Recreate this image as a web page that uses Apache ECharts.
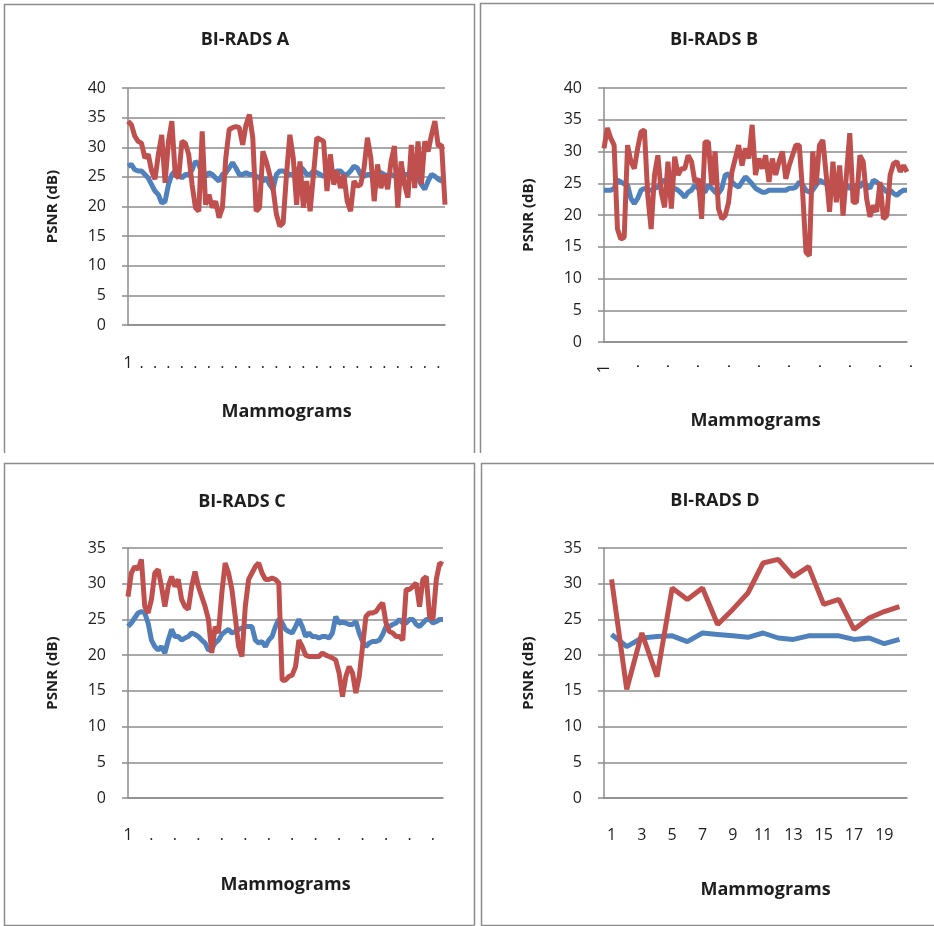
<!DOCTYPE html>
<html><head><meta charset="utf-8">
<script src="https://cdn.jsdelivr.net/npm/echarts@6/dist/echarts.min.js"></script>
<style>html,body{margin:0;padding:0;background:#fff}#c{width:934px;height:926px}</style>
</head><body><div id="c"></div>
<script>
// ---- Data (PSNR in dB) ----
const titles = ['BI-RADS A', 'BI-RADS B', 'BI-RADS C', 'BI-RADS D'];
const xAxisTitle = 'Mammograms';
const yAxisTitle = 'PSNR (dB)';
const seriesNames = ['Method 1', 'Method 2'];

const blueA = [26.8,27.1,26.2,26.0,26.0,25.4,24.8,23.7,22.6,22.0,
20.6,20.9,23.7,25.4,26.0,25.4,24.8,25.4,25.4,26.2,
27.6,27.1,25.4,25.1,25.7,25.4,24.8,24.3,25.4,25.7,
26.5,27.4,26.5,25.4,25.4,25.7,25.4,25.4,25.1,24.8,
24.3,24.8,23.7,22.9,25.4,26.0,26.0,25.7,25.4,25.4,
26.0,26.8,26.2,25.4,25.4,26.0,25.7,25.4,25.1,25.4,
25.4,25.7,26.0,26.0,25.4,25.4,26.0,26.8,26.5,25.4,
25.1,25.4,25.4,25.4,26.0,25.7,25.4,25.1,25.4,25.1,
25.4,24.8,25.4,25.4,24.8,25.4,24.8,23.7,22.9,24.3,
25.4,25.1,24.6,24.3,24.3];
const redA = [34.4,33.8,31.9,31.0,30.7,28.2,28.8,26.0,24.6,28.8,
32.1,24.0,31.0,34.4,25.4,24.8,31.0,30.7,28.8,23.7,
19.8,19.2,32.7,20.3,22.0,19.8,20.9,18.1,19.8,28.2,
33.0,33.3,33.5,33.3,30.4,33.8,35.5,31.6,19.2,19.8,
29.3,27.6,25.4,23.1,18.7,16.7,17.2,25.4,32.1,28.2,
20.3,27.6,19.8,24.3,19.2,25.4,31.6,31.3,31.0,22.6,
28.8,23.7,26.0,23.1,25.4,20.9,19.2,24.3,23.4,23.7,
26.5,31.6,28.2,20.9,27.1,23.1,25.4,22.9,27.6,30.2,
19.8,27.6,23.7,21.5,30.4,23.1,31.0,23.7,31.0,29.3,
32.1,34.4,30.2,30.4,20.3];

const blueB = [23.9,23.9,23.9,24.2,25.5,25.2,24.9,24.7,22.6,21.8,
22.6,23.9,24.2,23.9,23.9,24.2,24.4,25.2,25.5,24.7,
23.9,24.2,23.9,23.4,22.8,23.6,23.9,24.7,24.2,23.9,
23.6,24.7,24.2,23.6,23.4,24.2,26.3,26.5,25.2,24.7,
24.4,25.2,26.0,25.5,24.9,24.2,23.9,23.6,23.6,23.9,
23.9,23.9,23.9,23.9,23.9,24.2,24.2,24.4,25.2,24.7,
23.9,23.6,23.9,24.7,25.5,25.2,24.9,24.2,23.9,24.2,
24.2,24.4,24.7,24.2,24.4,24.7,24.4,25.2,24.7,24.2,
25.5,25.2,24.7,24.2,23.6,23.9,23.4,23.1,23.6,23.9,
23.9];
const redB = [30.5,33.7,32.1,31.0,17.8,16.2,16.5,31.0,28.4,27.3,
30.5,33.1,33.4,23.1,17.8,26.3,29.4,23.6,21.2,28.4,
21.0,29.2,26.3,27.3,27.3,29.4,28.4,25.2,25.7,19.4,
31.5,31.5,24.7,30.0,21.0,19.4,19.9,22.0,26.8,28.9,
31.0,27.8,30.5,28.9,34.2,26.3,28.9,27.3,29.4,25.2,
28.9,26.3,28.4,30.0,25.7,27.8,29.4,31.0,31.0,23.6,
14.1,13.6,30.0,24.7,31.0,31.8,26.3,20.5,28.4,22.0,
27.8,19.9,26.3,32.9,22.0,22.0,29.4,28.4,22.6,19.7,
21.5,20.5,25.2,19.4,19.9,26.3,28.1,28.4,26.8,27.8,
26.8];

const blueC = [24.0,24.5,25.2,25.9,26.1,25.9,24.5,22.1,21.2,20.7,
21.2,20.3,22.1,23.6,22.6,22.6,22.1,22.4,22.6,23.1,
22.9,22.6,22.1,21.7,20.7,20.9,21.7,22.1,22.9,23.3,
23.6,23.1,23.3,23.6,23.8,24.0,24.0,24.0,22.1,21.7,
21.9,21.2,22.1,22.6,24.0,25.0,24.5,23.6,23.3,23.1,
24.0,25.0,24.0,22.6,23.1,22.6,22.6,22.4,22.6,22.6,
22.4,23.1,25.4,24.5,24.6,24.5,24.3,24.3,24.7,23.1,
21.9,21.2,21.7,21.9,21.9,22.1,22.9,24.0,24.0,24.3,
24.5,25.0,24.5,24.5,25.0,25.0,24.3,24.0,24.5,25.0,
25.0,24.5,24.7,25.0,25.0];
const redC = [28.2,31.5,32.4,32.0,33.4,26.8,25.9,27.8,31.5,32.0,
29.6,26.8,29.6,31.0,29.6,30.6,27.8,26.8,26.4,29.6,
31.7,29.6,28.2,26.8,25.0,20.3,24.0,23.1,28.7,32.9,
31.5,29.2,25.4,21.2,19.8,26.8,30.6,31.5,32.4,32.9,
31.5,30.6,30.6,30.8,30.6,30.1,16.5,16.5,17.0,17.2,
18.4,22.1,21.2,20.0,19.8,19.8,19.8,19.8,20.3,20.0,
19.8,19.6,19.3,17.5,14.2,17.0,18.4,17.5,14.7,17.0,
21.2,25.4,25.9,25.9,26.1,26.8,27.3,24.5,23.3,23.1,
22.6,22.6,22.1,29.2,29.2,29.6,30.1,26.8,30.6,31.0,
25.4,25.0,30.6,32.9,32.7];

const blueD = [22.9,21.2,22.4,22.6,22.7,21.9,23.1,22.9,22.7,22.5,
23.1,22.4,22.2,22.7,22.7,22.7,22.2,22.4,21.6,22.2];
const redD = [30.6,15.2,23.1,17.0,29.4,27.8,29.4,24.3,26.4,28.7,
32.9,33.4,31.0,32.4,27.1,27.8,23.6,25.2,26.1,26.8];

const yMaxes = [40, 40, 35, 35];
const firstLabel = '1';
const truncLabel = '.';

// ---- Layout / style ----
const FONT = 'Open Sans';
const GRAY = '#8c8c8c';
const TXT = '#1e1e1e';
const BLUE = '#4F81BD';
const RED = '#C0504D';

const panels = [
  {blue: blueA, red: redA, grid: {left:128, top:88, width:317, height:237}, interval:3, rotate:0, boundary:false,
   title:[240,38], labelMargin:30, nameGap:78, yNameGap:68},
  {blue: blueB, red: redB, grid: {left:604, top:88, width:303, height:254}, interval:8, rotate:90, boundary:false,
   title:[709,38], labelMargin:22, nameGap:70, yNameGap:68},
  {blue: blueC, red: redC, grid: {left:128, top:548, width:315, height:250}, interval:6, rotate:0, boundary:false,
   title:[237,500], labelMargin:29, nameGap:78, yNameGap:68},
  {blue: blueD, red: redD, grid: {left:604, top:548, width:303, height:250}, interval:1, rotate:0, boundary:true,
   title:[710,499], labelMargin:29, nameGap:83, yNameGap:68}
];

const option = {
  animation: false,
  backgroundColor: '#fff',
  title: panels.map((p, i) => ({
    text: titles[i], left: p.title[0], top: p.title[1] - 12, textAlign: 'center',
    textStyle: {fontFamily: FONT, fontSize: 18, fontWeight: 'bold', color: TXT}
  })),
  grid: panels.map(p => Object.assign({containLabel: false}, p.grid)),
  xAxis: panels.map((p, i) => {
    const cats = p.red.map((_, k) => String(k + 1));
    return {
      type: 'category', gridIndex: i, data: cats, boundaryGap: p.boundary,
      axisLine: {show: true, lineStyle: {color: GRAY, width: 1.5}},
      axisTick: {show: false},
      axisLabel: {
        interval: p.interval, rotate: p.rotate, margin: p.labelMargin, hideOverlap: false,
        fontFamily: FONT, fontSize: 16, color: TXT,
        formatter: i === 3 ? (v => v) : ((v, idx) => idx === 0 ? firstLabel : truncLabel)
      },
      name: xAxisTitle, nameLocation: 'middle', nameGap: p.nameGap,
      nameTextStyle: {fontFamily: FONT, fontSize: 18, fontWeight: 'bold', color: TXT,
        padding: i === 3 ? [0, 0, 0, 20] : 0}
    };
  }),
  yAxis: panels.map((p, i) => ({
    type: 'value', gridIndex: i, min: 0, max: yMaxes[i], interval: 5,
    axisLine: {show: true, lineStyle: {color: GRAY, width: 1.5}},
    axisTick: {show: true, length: 6, lineStyle: {color: GRAY, width: 1.5}},
    splitLine: {show: true, lineStyle: {color: GRAY, width: 1.5}},
    axisLabel: {margin: 22, fontFamily: FONT, fontSize: 16, color: TXT},
    name: yAxisTitle, nameLocation: 'middle', nameRotate: 90, nameGap: p.yNameGap,
    nameTextStyle: {fontFamily: FONT, fontSize: 15, fontWeight: 'bold', color: TXT}
  })),
  series: panels.flatMap((p, i) => [
    {name: seriesNames[0], type: 'line', xAxisIndex: i, yAxisIndex: i, data: p.blue, showSymbol: false,
     lineStyle: {color: BLUE, width: 5}, itemStyle: {color: BLUE}, z: 2},
    {name: seriesNames[1], type: 'line', xAxisIndex: i, yAxisIndex: i, data: p.red, showSymbol: false,
     lineStyle: {color: RED, width: 5}, itemStyle: {color: RED}, z: 3}
  ]),
  graphic: [
    {type: 'polyline', shape: {points: [[4.5,453],[4.5,4.5],[474.5,4.5],[474.5,453]]}, style: {fill: null, stroke: GRAY, lineWidth: 1.5}, silent: true},
    {type: 'polyline', shape: {points: [[480.5,453],[480.5,3.5],[934,3.5]]}, style: {fill: null, stroke: GRAY, lineWidth: 1.5}, silent: true},
    {type: 'polyline', shape: {points: [[474.5,925.5],[4.5,925.5],[4.5,463.5],[474.5,463.5],[474.5,925.5]]}, style: {fill: null, stroke: GRAY, lineWidth: 1.5}, silent: true},
    {type: 'polyline', shape: {points: [[934,925.5],[481.5,925.5],[481.5,463.5],[934,463.5]]}, style: {fill: null, stroke: GRAY, lineWidth: 1.5}, silent: true}
  ]
};

const chart = echarts.init(document.getElementById('c'), null, {renderer: 'canvas'});
chart.setOption(option);
</script></body></html>
